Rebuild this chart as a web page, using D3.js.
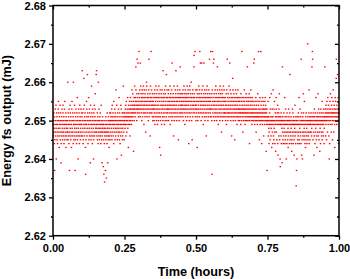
<!DOCTYPE html>
<html>
<head>
<meta charset="utf-8">
<script src="https://cdn.jsdelivr.net/npm/d3@7"></script>
<style>
  body { margin: 0; background: #fff; }
  svg { display: block; font-family: "Liberation Sans", Arial, sans-serif; }
</style>
</head>
<body>
<svg width="350" height="279"></svg>
<script>
// one character per reading: position in levelChars -> 2.630 + 0.001 * position (mJ)
var levelChars = "0123456789abcdefghijklmnopqrstuvwxyzABCDE";
var levelBase = 2.630, levelStep = 0.001;
var chunkHours = 0.05;
var energyChunks = [
  "jtgkmhiel7fjnkhgoiajmlfkhejgnipmkhdlgjiofkmhj9eglknhifjmogkhlejinfpkgjhmdlikgjfh",
  "kiuhfmjlgenk7hjoimgflkjdhnpigkmhleujfkjgoimh7fjlnkgiehmjqfklgaihnjmkegojlhfiknjgm",
  "jlhxgkmiefnjvhkoglimjd6kfhjpnlgiwkmehjlqfkingmhj9kolfgitjmhkenlgjiafmkhogjlnrkhi",
  "iwjxhgkmfjlieuhkgnjfiklhmgjeiohkfj9ghlikj8jf6hie4gkhj7ilfh5gjkemhi9jgflkhdigjmfk",
  "kjmhlgiknfjolhkmgjiepkljhnfkmiglsjhkoaifjmlkhgnjiqkfmhlejkgoinbhjklmfgikjtmhlfjk",
  "kmlinjoglkpmhjlnkqimldjonlkmpjgnlqkomnjplsmkonrlmpcnoqkmtnolpqmysnpokrAnqmozpnlr",
  "oCmqnsplzotnrmqpkosnlqprmtonjqsmpolrnqhmpsoutnlqpmronkqsAlpmonrgqtpmCnosqmplrokn",
  "nplqokmrnsjoqlptmnkrqolsjnpmqkotlrnmdpqslkbonrmjqpsolnkxqmrpolnjsqmkrtopnlwqmksn",
  "oqmpnrkslopnqmtjoqrlnpmskozqnlpmrogqtnkpmolsqnrxmpokqlntspmrqfonlkqpsmryonqlmpro",
  "npqomrlsnkpqtomnrjqpslonmqrkpotnqlmsrpoenqkmtpslrnoqmupkqnfrolsmpqnoyBrqmpCnlosk",
  "onqmpsdlrnkqpomtnrlsqCpmzonqkrpzmsolnqtpjmrozqnlspkmorqnlgpsmqtonrkplqmsnopArqnl",
  "mpCnqolrk6nsCpmqozlAnrpkomsqlntpmrokqnlyspmqjorlnpmqskotnrlpmqhonslrkqpmotnlqspm",
  "mnlqokpmrnjsolAmqnkprlomtnqmzlpsonkrmqlgpnomqvslkpnrmoqlfnpmksoqnlrmpjnqolsmkpnq",
  "lnmpkoqnmljrmpnkCqolmnhpmqknlosmpnjkqmlnromkpqlynmkopnlqmrkelnpomqslknmpjolqmnkp",
  "lmkznoAljmpknlqmhoklnpmjlrkmoClnpkfmlqnjkmCoplkemnljqkmpnoglkmnjlpkqmonlckmjn7lk",
  "kljpgkliehjmqkfnjlkgirkdjlnhkelsjgkfnipkhejmlcjkqnhlfkmjoebkljmgnkrflja8kjlgmeki",
  "j9kyhlfjekgmihjqkelfjnghkajlemkhfjidkgnlhjekmwfjhkgliejcfkhnjmgekjlhfbjkiogjhelk",
  "3j7kahljfekgmjhlqfejinkhgljeAkmbjfhaklgjrmhkfipgjekhdljfmkgiehjkElfjgkhmsejlkfhj",
  "kjlmhkgiyjlCAkfmjhlbkgnjlekmhiqjkfgldkjmhlrkgjnlfhkmcjileknjhmgklpfjkhmlgjnkeilk",
  "ylmkngjolmfkpnlhmqkjlomgnakelpmjrnklhmoqjlmfnkpsmlhkmonjdlqmkpnlvAmjolkwnmlqkenm"
];
var xTicks = [0, 0.25, 0.5, 0.75, 1];
var xMinor = [0.125, 0.375, 0.625, 0.875];
var yTicks = [2.62, 2.63, 2.64, 2.65, 2.66, 2.67, 2.68];
var yMinor = [2.625, 2.635, 2.645, 2.655, 2.665, 2.675];

var data = [];
energyChunks.forEach(function(s, k) {
  for (var i = 0; i < s.length; i++) {
    data.push({
      t: (k + (i + 0.5) / s.length) * chunkHours,
      e: levelBase + levelStep * levelChars.indexOf(s[i])
    });
  }
});

var svg = d3.select("svg"),
    margin = {top: 5.5, right: 11, bottom: 43.3, left: 53},
    width = +svg.attr("width") - margin.left - margin.right,
    height = +svg.attr("height") - margin.top - margin.bottom;

var g = svg.append("g").attr("transform", "translate(" + margin.left + "," + margin.top + ")");

var x = d3.scaleLinear().domain([0, 1]).range([0, width]);
var y = d3.scaleLinear().domain([2.62, 2.68]).range([height, 0]);

// points
g.append("g").selectAll("rect")
  .data(data)
  .enter().append("rect")
    .attr("x", function(d) { return x(d.t) - 0.75; })
    .attr("y", function(d) { return y(d.e) - 0.65; })
    .attr("width", 1.5)
    .attr("height", 1.3)
    .attr("fill", "#ff0000");

function styleAxis(sel) {
  sel.select(".domain").remove();
  sel.selectAll("line").attr("stroke", "#000").attr("stroke-width", 1.3);
  sel.selectAll("text")
    .attr("fill", "#000")
    .style("font-size", "11px")
    .style("font-weight", "bold");
}

// bottom
g.append("g").attr("transform", "translate(0," + height + ")")
  .call(d3.axisBottom(x).tickValues(xTicks).tickSize(4).tickPadding(4.5).tickFormat(d3.format(".2f")))
  .call(styleAxis);
g.append("g").attr("transform", "translate(0," + height + ")")
  .call(d3.axisBottom(x).tickValues(xMinor).tickSize(2).tickFormat(""))
  .call(styleAxis);
// left
g.append("g")
  .call(d3.axisLeft(y).tickValues(yTicks).tickSize(4).tickPadding(3).tickFormat(d3.format(".2f")))
  .call(styleAxis);
g.append("g")
  .call(d3.axisLeft(y).tickValues(yMinor).tickSize(2).tickFormat(""))
  .call(styleAxis);
// top and right mirrors, ticks pointing in
g.append("g")
  .call(d3.axisTop(x).tickValues(xTicks).tickSize(-4).tickFormat(""))
  .call(styleAxis);
g.append("g")
  .call(d3.axisTop(x).tickValues(xMinor).tickSize(-2).tickFormat(""))
  .call(styleAxis);
g.append("g").attr("transform", "translate(" + width + ",0)")
  .call(d3.axisRight(y).tickValues(yTicks).tickSize(-4).tickFormat(""))
  .call(styleAxis);
g.append("g").attr("transform", "translate(" + width + ",0)")
  .call(d3.axisRight(y).tickValues(yMinor).tickSize(-2).tickFormat(""))
  .call(styleAxis);

// frame
g.append("rect")
    .attr("width", width)
    .attr("height", height)
    .attr("fill", "none")
    .attr("stroke", "#000")
    .attr("stroke-width", 1.5);

// axis titles
svg.append("text")
    .attr("x", margin.left + width / 2)
    .attr("y", 275.5)
    .attr("text-anchor", "middle")
    .style("font-size", "12.7px")
    .style("font-weight", "bold")
    .text("Time (hours)");

svg.append("text")
    .attr("transform", "translate(11," + (margin.top + height / 2) + ") rotate(-90)")
    .attr("text-anchor", "middle")
    .style("font-size", "12.7px")
    .style("font-weight", "bold")
    .text("Energy fs output (mJ)");
</script>
</body>
</html>
